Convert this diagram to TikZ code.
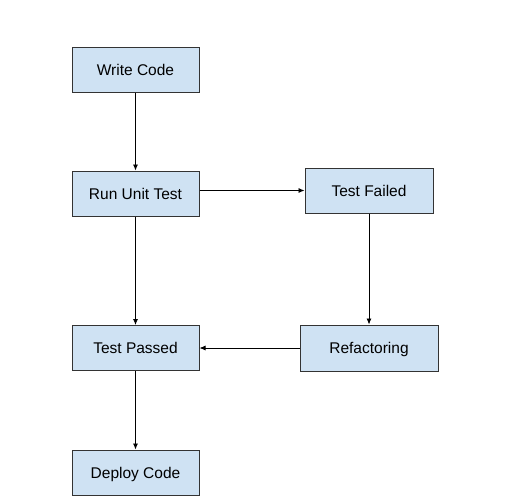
\documentclass[tikz,border=0pt]{standalone}
\usepackage{fontspec}
\setmainfont{Liberation Sans}
\usetikzlibrary{arrows.meta}
\definecolor{boxfill}{HTML}{CFE2F3}
\definecolor{boxline}{HTML}{333333}
\begin{document}
\begin{tikzpicture}[x=1pt,y=-1pt,
  stepbox/.style={draw=boxline, line width=1pt, fill=boxfill, minimum width=127pt, minimum height=45pt, inner sep=0pt, text height=13.5pt, text depth=2.5pt, font=\fontsize{15.5}{18}\selectfont},
  conn/.style={draw=black, line width=0.8pt, -{Latex[length=6pt,width=5pt]}}]
\useasboundingbox (0,0) rectangle (519,501);
\node[stepbox] (write) at (135.5,69.5) {Write Code};
\node[stepbox] (run) at (135.5,193.5) {Run Unit Test};
\node[stepbox, minimum width=128pt] (failed) at (369,190.5) {Test Failed};
\node[stepbox] (passed) at (135.5,348) {Test Passed};
\node[stepbox, minimum width=138pt, minimum height=46pt] (refac) at (369,348) {Refactoring};
\node[stepbox] (deploy) at (135.5,472.5) {Deploy Code};
\draw[conn] (write) -- (run);
\draw[conn] (run.east |- failed.west) -- (failed.west);
\draw[conn] (run) -- (passed);
\draw[conn] (failed) -- (refac);
\draw[conn] (refac) -- (passed);
\draw[conn] (passed) -- (deploy);
\end{tikzpicture}
\end{document}
